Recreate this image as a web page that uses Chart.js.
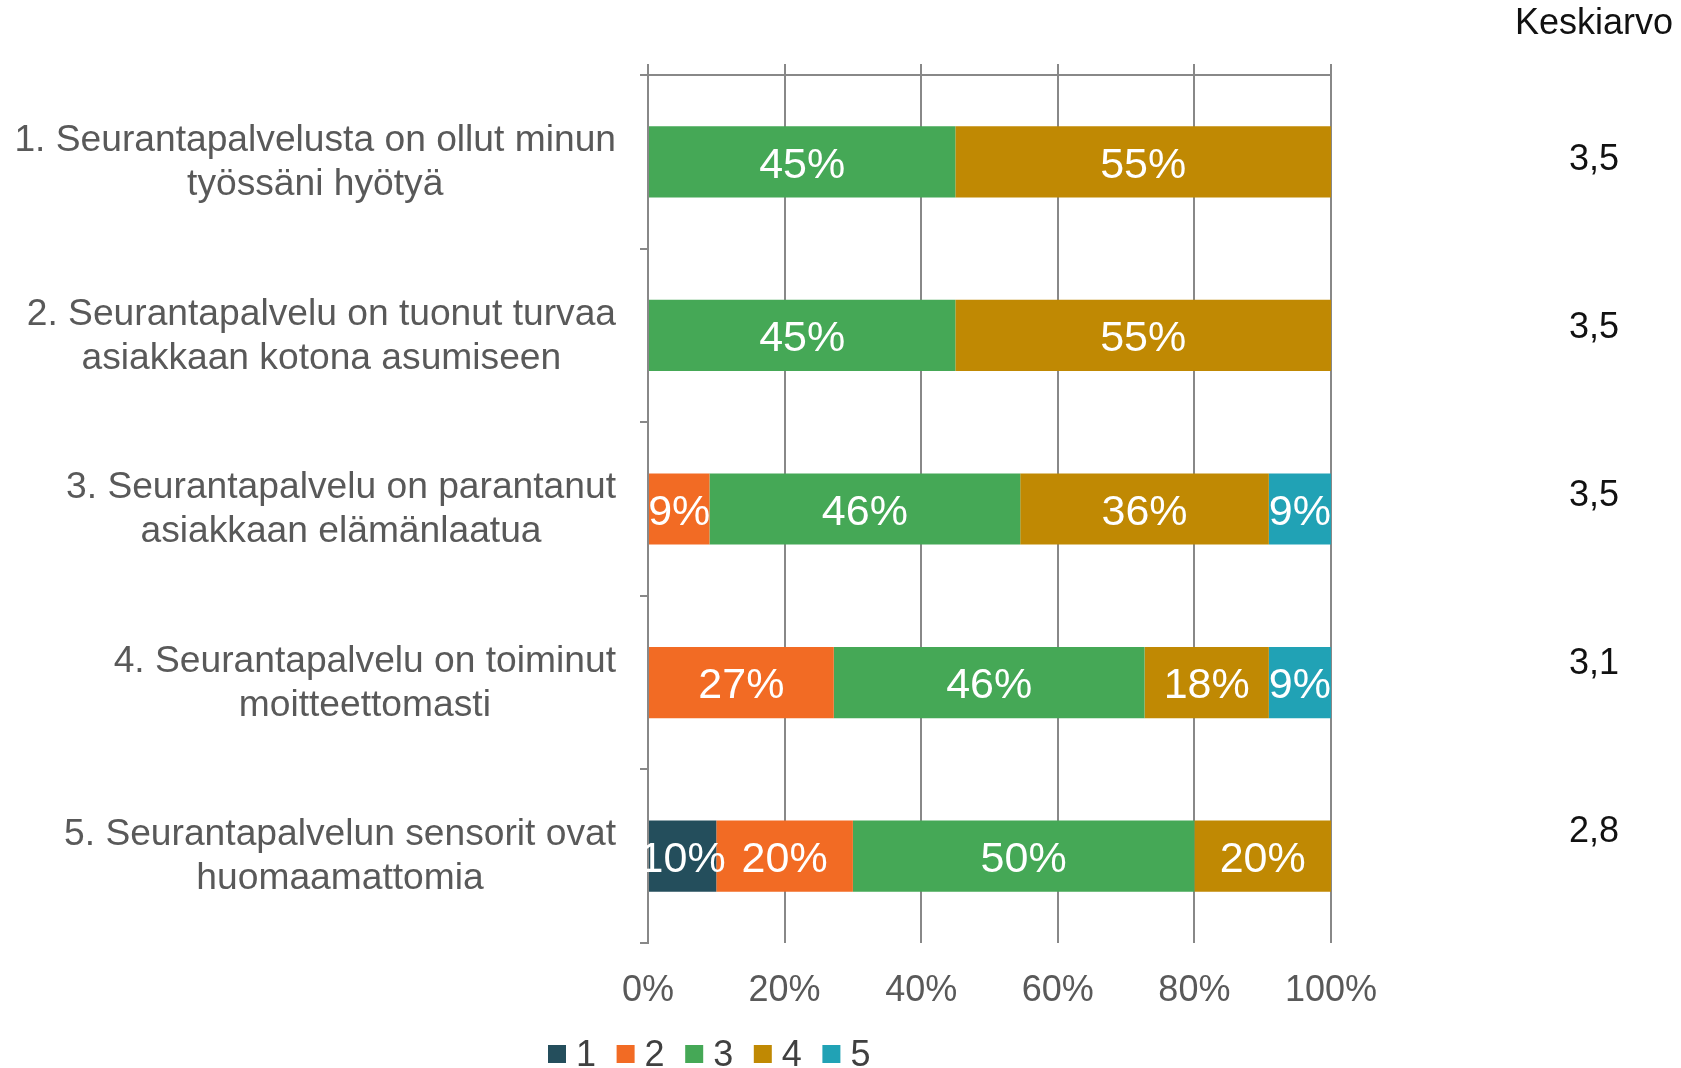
<!DOCTYPE html>
<html>
<head>
<meta charset="utf-8">
<script src="https://cdn.jsdelivr.net/npm/chart.js@4/dist/chart.umd.min.js"></script>
<style>
  html, body { margin: 0; padding: 0; background: #fff; }
  #wrap { width: 1681px; height: 1068px; }
</style>
</head>
<body>
<div id="wrap"><canvas id="surveyChart"></canvas></div>
<script>
// survey statements (two lines each)
const categories = [
  ["1. Seurantapalvelusta on ollut minun", "työssäni hyötyä"],
  ["2. Seurantapalvelu on tuonut turvaa", "asiakkaan kotona asumiseen"],
  ["3. Seurantapalvelu on parantanut", "asiakkaan elämänlaatua"],
  ["4. Seurantapalvelu on toiminut", "moitteettomasti"],
  ["5. Seurantapalvelun sensorit ovat", "huomaamattomia"]
];

// share of answers per scale value, %
const answerNames = ["1", "2", "3", "4", "5"];
const answer1 = [0, 0, 0, 0, 10];
const answer2 = [0, 0, 9.0, 27.2, 20];
const answer3 = [45, 45, 45.5, 45.5, 50];
const answer4 = [55, 55, 36.4, 18.2, 20];
const answer5 = [0, 0, 9.1, 9.1, 0];
const answerColors = ["#244e5c", "#f26b24", "#45a856", "#c08903", "#21a2b5"];

const averages = ["3,5", "3,5", "3,5", "3,1", "2,8"];
const tickLabels = ["0%", "20%", "40%", "60%", "80%", "100%"];

const FONT = "'Liberation Sans', Arial, sans-serif";
const GRID = "#888888";

// white % labels inside the bar segments
const segmentLabels = {
  id: "segmentLabels",
  afterDatasetsDraw(chart) {
    const ctx = chart.ctx;
    ctx.save();
    ctx.font = "43px " + FONT;
    ctx.fillStyle = "#ffffff";
    ctx.textAlign = "center";
    ctx.textBaseline = "middle";
    chart.data.datasets.forEach((ds, d) => {
      chart.getDatasetMeta(d).data.forEach((bar, i) => {
        const v = ds.data[i];
        if (!v) return;
        ctx.fillText(Math.round(v) + "%", (bar.x + bar.base) / 2, bar.y + 4);
      });
    });
    ctx.restore();
  }
};

// category text, each block centred on itself and pushed against the axis
const categoryText = {
  id: "categoryText",
  afterDraw(chart) {
    const ctx = chart.ctx;
    const yScale = chart.scales.y;
    const lineH = 44;
    ctx.save();
    ctx.font = "37.2px " + FONT;
    ctx.fillStyle = "#595959";
    ctx.textAlign = "center";
    ctx.textBaseline = "middle";
    categories.forEach((lines, i) => {
      const y = yScale.getPixelForValue(i);
      const widest = Math.max(...lines.map(l => ctx.measureText(l).width));
      const cx = yScale.right - 32 - widest / 2;
      lines.forEach((line, j) => {
        ctx.fillText(line, cx, y + 1 + (j - (lines.length - 1) / 2) * lineH);
      });
    });
    ctx.restore();
  }
};

// "Keskiarvo" text box on the right
const averageColumn = {
  id: "averageColumn",
  afterDraw(chart) {
    const ctx = chart.ctx;
    ctx.save();
    ctx.font = "36px " + FONT;
    ctx.fillStyle = "#111111";
    ctx.textAlign = "center";
    ctx.textBaseline = "middle";
    ctx.fillText("Keskiarvo", 1594, 24);
    averages.forEach((a, i) => {
      ctx.fillText(a, 1594, 160 + i * 168);
    });
    ctx.restore();
  }
};

// legend under the axis labels
const bottomLegend = {
  id: "bottomLegend",
  afterDraw(chart) {
    const ctx = chart.ctx;
    const y = 1054;
    ctx.save();
    ctx.font = "36px " + FONT;
    ctx.textAlign = "left";
    ctx.textBaseline = "middle";
    chart.data.datasets.forEach((ds, i) => {
      const x = 548 + i * 68.6;
      ctx.fillStyle = ds.backgroundColor;
      ctx.fillRect(x, y - 9, 18, 18);
      ctx.fillStyle = "#404040";
      ctx.fillText(ds.label, x + 28, y + 2);
    });
    ctx.restore();
  }
};

function buildDatasets() {
  const series = [answer1, answer2, answer3, answer4, answer5];
  return series.map((data, i) => ({
    label: answerNames[i],
    data: data,
    backgroundColor: answerColors[i],
    borderWidth: 0,
    categoryPercentage: 1,
    barPercentage: 0.41
  }));
}

function renderChart() {
  const canvas = document.getElementById("surveyChart");

  // eslint-disable-next-line no-unused-vars
  const surveyChart = new Chart(canvas, {
    type: "bar",
    data: {
      labels: categories,
      datasets: buildDatasets()
    },
    options: {
      indexAxis: "y",
      responsive: true,
      maintainAspectRatio: false,
      animation: false,
      layout: { padding: { top: 64, right: 350, bottom: 0, left: 0 } },
      plugins: {
        legend: { display: false },
        tooltip: { enabled: false }
      },
      scales: {
        x: {
          stacked: true,
          min: 0,
          max: 100,
          position: "bottom",
          ticks: {
            stepSize: 20,
            padding: 26,
            color: "#595959",
            font: { family: FONT, size: 36 },
            callback: (v, idx) => tickLabels[idx]
          },
          grid: { color: GRID, lineWidth: 2, drawTicks: false },
          border: { display: false },
          afterFit: scale => { scale.height = 125; }
        },
        xTop: {
          type: "linear",
          axis: "x",
          min: 0,
          max: 100,
          position: "top",
          ticks: { display: false, stepSize: 20 },
          grid: { color: GRID, lineWidth: 2, drawOnChartArea: false, tickLength: 11 },
          border: { display: true, color: GRID, width: 2 },
          afterFit: scale => { scale.height = 11; }
        },
        y: {
          stacked: true,
          ticks: { display: false },
          grid: { color: GRID, lineWidth: 2, offset: true, drawOnChartArea: false, tickLength: 8 },
          border: { display: true, color: GRID, width: 2 },
          afterFit: scale => { scale.width = 648; }
        }
      }
    },
    plugins: [segmentLabels, categoryText, averageColumn, bottomLegend]
  });
}

document.addEventListener("DOMContentLoaded", renderChart);
</script>
</body>
</html>
